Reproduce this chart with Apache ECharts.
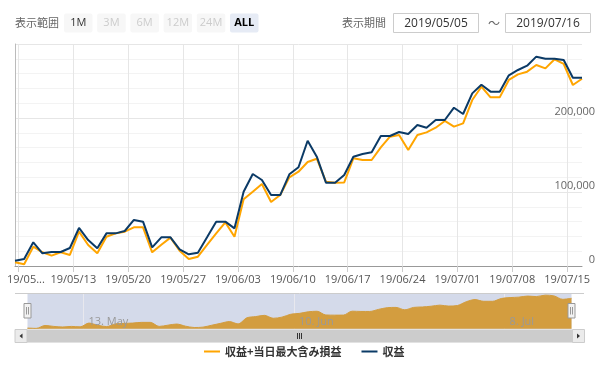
<!DOCTYPE html>
<html><head><meta charset="utf-8">
<script src="https://cdn.jsdelivr.net/npm/echarts@6/dist/echarts.min.js"></script>
<style>html,body{margin:0;padding:0;background:#fff}#c{width:612px;height:366px}</style>
</head><body><div id="c"></div>
<script>
// ---- data ----
const dates = [
 '2019-05-05','2019-05-06','2019-05-07','2019-05-08','2019-05-09','2019-05-10',
 '2019-05-12','2019-05-13','2019-05-14','2019-05-15','2019-05-16','2019-05-17',
 '2019-05-19','2019-05-20','2019-05-21','2019-05-22','2019-05-23','2019-05-24',
 '2019-05-26','2019-05-27','2019-05-28','2019-05-29','2019-05-30','2019-05-31',
 '2019-06-02','2019-06-03','2019-06-04','2019-06-05','2019-06-06','2019-06-07',
 '2019-06-09','2019-06-10','2019-06-11','2019-06-12','2019-06-13','2019-06-14',
 '2019-06-16','2019-06-17','2019-06-18','2019-06-19','2019-06-20','2019-06-21',
 '2019-06-23','2019-06-24','2019-06-25','2019-06-26','2019-06-27','2019-06-28',
 '2019-06-30','2019-07-01','2019-07-02','2019-07-03','2019-07-04','2019-07-05',
 '2019-07-07','2019-07-08','2019-07-09','2019-07-10','2019-07-11','2019-07-12',
 '2019-07-14','2019-07-15','2019-07-16'
];
const profitWithLoss = [
 5000,2300,26100,18500,14000,18500,
 14900,46400,28400,17100,39600,44100,
 46400,52300,52300,18500,28800,38300,
 20700,9500,12600,28400,44100,59000,
 39600,90100,100400,110800,86500,95900,
 119800,127400,140500,145000,113900,112600,
 113000,145500,143200,143200,160400,174800,
 177000,156800,177000,180600,186900,196000,
 188300,192800,224300,242300,227900,227900,
 251400,259000,262600,271600,267100,279300,
 273000,244600,253100
];
const profit = [
 7200,9500,32000,17100,18900,18900,
 24300,51400,35100,23900,44100,44100,
 47300,62200,59900,25200,38700,38700,
 22500,15800,18000,38700,59900,59900,
 50900,100400,124300,116200,95900,95900,
 123900,133400,169300,147700,112600,112600,
 123000,147700,151400,153600,175700,175700,
 181100,178400,190500,186900,197300,197300,
 213900,205400,233300,245000,235600,235600,
 257700,264900,270700,282900,280200,280000,
 278400,254500,254500
];
const seriesNames = ['収益+当日最大含み損益', '収益'];
const navTickDates = ['2019-05-13', '2019-06-10', '2019-07-08'];
const navTickLabels = ['13. May', '10. Jun', '8. Jul'];
const rangeButtons = ['1M', '3M', '6M', '12M', '24M', 'ALL'];
const rangeLabel = '表示範囲';
const periodLabel = '表示期間';
const periodFrom = '2019/05/05';
const periodTo = '2019/07/16';

// ---- ticks (Monday 00:00 in ordinal position) ----
const dayOffset = 0.625;
const mondayTicks = dates.map((d, i) => ({d, i}))
  .filter(o => new Date(o.d + 'T00:00:00Z').getUTCDay() === 1)
  .map(o => o.i - dayOffset);
const navTicks = navTickDates.map(d => dates.indexOf(d) - dayOffset);

const LATIN = '"Open Sans", "Noto Sans CJK JP", sans-serif';
const CJK = '"Noto Sans CJK JP", "Open Sans", sans-serif';

function xLabel(v) {
  const idx = Math.round(v + dayOffset);
  const d = dates[idx];
  if (v === mondayTicks[0]) return '{f|' + d.slice(2, 7).replace('-', '/') + '...}';
  return d.slice(2).replace(/-/g, '/');
}
function navLabel(v) {
  const k = navTicks.findIndex(t => Math.abs(t - v) < 1e-6);
  return k >= 0 ? navTickLabels[k] : '';
}

// ---- graphics (range selector, navigator handles, scrollbar) ----
const g = [];
g.push({type:'text', x:15, y:23, z:50, style:{text:rangeLabel, font:'11px ' + CJK, fill:'#666', textVerticalAlign:'middle'}});
rangeButtons.forEach((b, k) => {
  const x = 64 + k * 33.2;
  const sel = b === 'ALL', dis = !sel && b !== '1M';
  g.push({type:'rect', z:50, shape:{x:x, y:13.5, width:28.5, height:19, r:2},
    style:{fill: sel ? '#e6ebf5' : '#f7f7f7'}});
  g.push({type:'text', z:51, x:x + 14.25, y:23.2, style:{text:b,
    font:(sel ? 'bold ' : '') + '11px ' + LATIN, fill: sel ? '#000' : (dis ? '#ccc' : '#333'),
    textAlign:'center', textVerticalAlign:'middle'}});
});
g.push({type:'text', x:342, y:23, z:50, style:{text:periodLabel, font:'11px ' + CJK, fill:'#666', textVerticalAlign:'middle'}});
g.push({type:'rect', z:50, shape:{x:393.5, y:13.5, width:85, height:19}, style:{fill:'#fff', stroke:'#ccc', lineWidth:1}});
g.push({type:'text', z:51, x:436, y:23.2, style:{text:periodFrom, font:'12px ' + LATIN, fill:'#333', textAlign:'center', textVerticalAlign:'middle'}});
g.push({type:'text', z:51, x:494, y:23.2, style:{text:'～', font:'12px ' + CJK, fill:'#666', textAlign:'center', textVerticalAlign:'middle'}});
g.push({type:'rect', z:50, shape:{x:505.5, y:13.5, width:85, height:19}, style:{fill:'#fff', stroke:'#ccc', lineWidth:1}});
g.push({type:'text', z:51, x:548, y:23.2, style:{text:periodTo, font:'12px ' + LATIN, fill:'#333', textAlign:'center', textVerticalAlign:'middle'}});

// navigator outline
g.push({type:'line', z:60, shape:{x1:15, y1:293.5, x2:584, y2:293.5}, style:{stroke:'#ccc', lineWidth:1}});
// handles
[27.5, 571.5].forEach(cx => {
  g.push({type:'rect', z:61, shape:{x:cx - 3.5, y:303.5, width:7, height:14.5}, style:{fill:'#f2f2f2', stroke:'#999', lineWidth:1}});
  g.push({type:'line', z:62, shape:{x1:cx - 1, y1:307, x2:cx - 1, y2:314.5}, style:{stroke:'#999', lineWidth:1}});
  g.push({type:'line', z:62, shape:{x1:cx + 1, y1:307, x2:cx + 1, y2:314.5}, style:{stroke:'#999', lineWidth:1}});
});
// scrollbar
g.push({type:'rect', z:60, shape:{x:15, y:329.5, width:569, height:13}, style:{fill:'#f2f2f2'}});
g.push({type:'rect', z:61, shape:{x:27, y:329.5, width:545.5, height:13}, style:{fill:'#cccccc'}});
g.push({type:'rect', z:61, shape:{x:15, y:329.5, width:12, height:13}, style:{fill:'#ebebeb', stroke:'#ccc', lineWidth:1}});
g.push({type:'rect', z:61, shape:{x:572.5, y:329.5, width:12, height:13}, style:{fill:'#ebebeb', stroke:'#ccc', lineWidth:1}});
g.push({type:'polygon', z:62, shape:{points:[[19.5,336],[22.5,333.5],[22.5,338.5]]}, style:{fill:'#333'}});
g.push({type:'polygon', z:62, shape:{points:[[580,336],[577,333.5],[577,338.5]]}, style:{fill:'#333'}});
[297.5, 299.5, 301.5].forEach(x => {
  g.push({type:'line', z:62, shape:{x1:x, y1:333, x2:x, y2:339}, style:{stroke:'#333', lineWidth:1}});
});

const chart = echarts.init(document.getElementById('c'), null, {renderer:'canvas'});
chart.setOption({
  animation: false,
  backgroundColor: '#fff',
  grid: [
    {left:15, right:30, top:44, height:222, outerBoundsMode:'none'},
    {left:27.5, right:40.5, top:293.5, height:35.5, show:true, backgroundColor:'#d4daea', borderWidth:0, outerBoundsMode:'none'}
  ],
  legend: {
    data: seriesNames, left:199, top:341, icon:'rect', itemWidth:16, itemHeight:2, itemGap:20,
    textStyle:{fontSize:11, fontWeight:'bold', color:'#333', fontFamily:CJK}
  },
  xAxis: [
    {type:'value', gridIndex:0, position:'bottom', min:0, max:dates.length - 1,
     axisLine:{show:true, onZero:false, lineStyle:{color:'#999', width:1}},
     axisTick:{show:true, customValues:mondayTicks, length:6, lineStyle:{color:'#ccc'}},
     splitLine:{show:true, lineStyle:{color:'#e6e6e6', width:1}},
     axisLabel:{customValues:mondayTicks, formatter:xLabel, margin:8, color:'#555', fontSize:11, fontFamily:LATIN,
       rich:{f:{padding:[0,0,0,15], color:'#555', fontSize:11, fontFamily:LATIN}}}
    },
    {type:'value', gridIndex:1, position:'bottom', min:0, max:dates.length - 1,
     axisLine:{show:false}, axisTick:{show:false, customValues:navTicks},
     splitLine:{show:true, lineStyle:{color:'#e8e8ee', width:1}},
     axisLabel:{show:false}
    },
    {type:'value', gridIndex:1, position:'bottom', offset:0, min:0, max:dates.length - 1, z:20,
     axisLine:{show:false}, axisTick:{show:false, customValues:navTicks},
     splitLine:{show:false},
     axisLabel:{show:true, customValues:navTicks, formatter:navLabel, inside:true, margin:2, align:'left', padding:[0,0,0,5],
       color:'#999', fontSize:11, fontFamily:LATIN, hideOverlap:false}
    }
  ],
  yAxis: [
    {type:'value', gridIndex:0, position:'right', min:0, max:300000, interval:100000,
     axisLine:{show:true, lineStyle:{color:'#bbb'}}, axisTick:{show:false},
     splitLine:{show:true, lineStyle:{color:'#e6e6e6', width:1}},
     minorTick:{show:false, splitNumber:5},
     minorSplitLine:{show:true, lineStyle:{color:'#f3f3f3', width:1}},
     axisLabel:{showMaxLabel:false, align:'right', verticalAlign:'bottom', margin:13, lineHeight:12,
       color:'#666', fontSize:11, fontFamily:LATIN,
       formatter: v => v.toLocaleString('en-US')}
    },
    {type:'value', gridIndex:1, min:-3000, max:293000, show:false, splitLine:{show:false}}
  ],
  series: [
    {name:seriesNames[0], type:'line', xAxisIndex:0, yAxisIndex:0, data:profitWithLoss.map((v, i) => [i, v]),
     showSymbol:false, symbol:'none', lineStyle:{color:'#ffa500', width:2}, itemStyle:{color:'#ffa500'}, z:3},
    {name:seriesNames[1], type:'line', xAxisIndex:0, yAxisIndex:0, data:profit.map((v, i) => [i, v]),
     showSymbol:false, symbol:'none', lineStyle:{color:'#0b3a66', width:2}, itemStyle:{color:'#0b3a66'}, z:4},
    {name:'navigator', type:'line', xAxisIndex:1, yAxisIndex:1, data:profitWithLoss.map((v, i) => [i, v]),
     showSymbol:false, symbol:'none', smooth:0.3, lineStyle:{color:'#d29c3e', width:1},
     areaStyle:{color:'#d39d3f', opacity:1}, z:2}
  ],
  graphic: g
});
</script>
</body></html>
